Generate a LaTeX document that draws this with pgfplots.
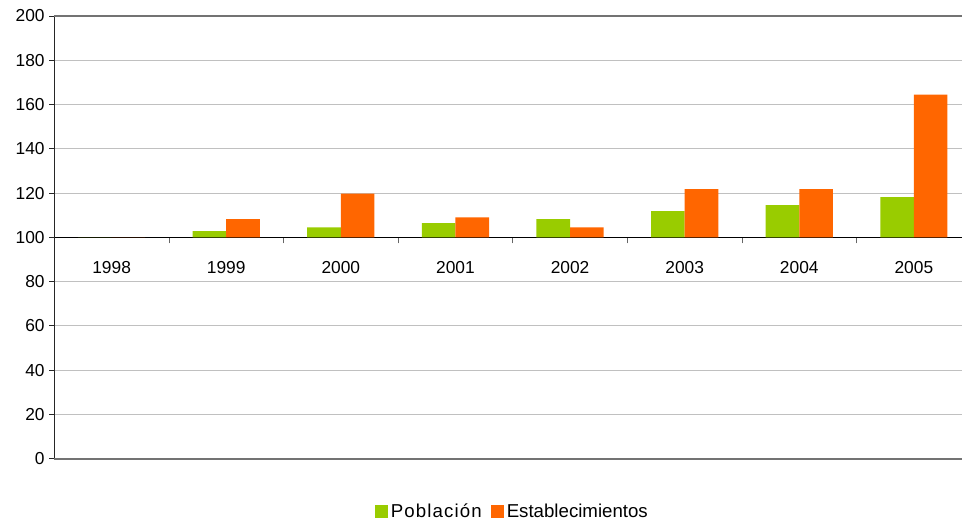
\documentclass[border=0pt]{standalone}
\usepackage{fontspec}
\setmainfont{Liberation Sans}
\usepackage{pgfplots}
\pgfplotsset{compat=1.18}
\usepackage{pgfplotstable}
\definecolor{cgreen}{HTML}{99CC00}
\definecolor{corange}{HTML}{FF6600}
\definecolor{cgrid}{HTML}{C0C0C0}
\pgfplotstableread{
x pob est
0 100 100
1 102.8 108.2
2 104.5 119.7
3 106.4 109.0
4 108.2 104.5
5 111.8 121.8
6 114.5 121.8
7 118.2 164.5
}\datatab
\begin{document}
\begin{tikzpicture}
\begin{axis}[
  name=ax,
  scale only axis,
  width=680.8pt, height=332pt,
  xmin=-0.5, xmax=7.42,
  ymin=-100, ymax=100,
  axis x line=middle,
  axis y line=left,
  x axis line style={-, black, line width=0.8pt},
  y axis line style={-, black!85, line width=0.8pt},
  hide obscured y ticks=false,
  hide obscured x ticks=false,
  y filter/.expression={y-100},
  xtick={0,...,7},
  xticklabels={1998,1999,2000,2001,2002,2003,2004,2005},
  major x tick style={draw=none},
  minor xtick={0.5,1.5,...,6.5},
  minor x tick style={black!60, line width=0.6pt},
  minor tick length=4.5pt,
  xtick align=outside,
  xticklabel style={anchor=center, yshift=-18.75pt},
  ytick={-100,-80,...,100},
  yticklabel={\pgfmathparse{int(round(\tick+100))}\pgfmathresult},
  ytick align=outside,
  major tick length=3.75pt,
  y tick style={black!85, line width=0.6pt},
  ymajorgrids,
  major grid style={cgrid, line width=0.6pt},
  tick label style={font=\fontsize{13}{15}\selectfont},
  ybar,
  bar width=25.2pt,
  clip=false,
  legend columns=2,
  legend style={draw=none, fill=none, at={(0.5,0)}, anchor=center, yshift=-39.75pt, xshift=3.5pt,
    font=\fontsize{14}{16}\selectfont, /tikz/every even column/.append style={column sep=5pt},
    /tikz/every odd column/.append style={column sep=0pt}},
  legend image code/.code={\fill[#1] (0pt,-5pt) rectangle (9.75pt,4.75pt);},
]
\draw[black!55, line width=1.5pt] (axis cs:-0.5,-100) -- (axis cs:7.42,-100);
\draw[black!55, line width=0.8pt] (axis cs:-0.5,100) -- (axis cs:7.42,100);
\addplot[fill=cgreen, draw=none, bar shift=-12.6pt] table[x=x, y=pob] {\datatab};
\addplot[fill=corange, draw=none, bar shift=12.6pt] table[x=x, y=est] {\datatab};
\legend{{\addfontfeature{LetterSpace=6}Población}, Establecimientos}
\end{axis}
\pgfresetboundingbox
\path[use as bounding box] ([xshift=-40.75pt, yshift=-49.5pt]ax.south west) rectangle ([yshift=12pt]ax.north east);
\end{tikzpicture}
\end{document}
